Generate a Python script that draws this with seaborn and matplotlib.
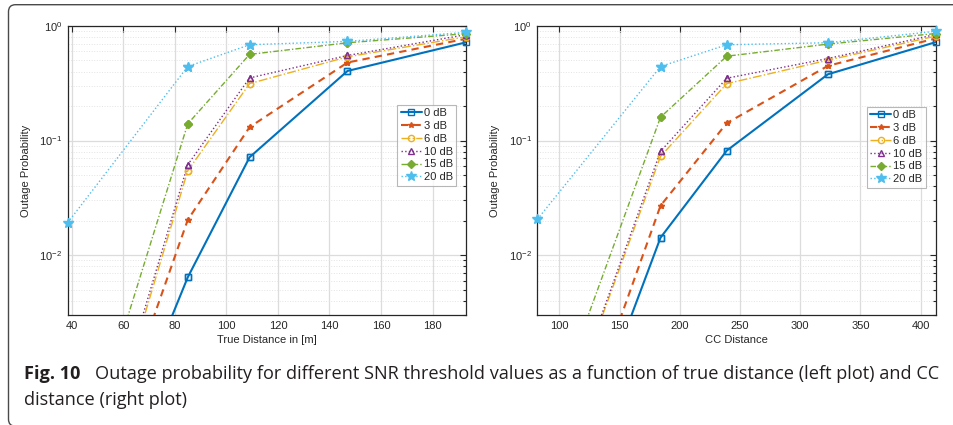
import numpy as np
import pandas as pd
import matplotlib
matplotlib.use("Agg")
import matplotlib.pyplot as plt
from matplotlib.patches import FancyBboxPatch
from matplotlib.ticker import LogLocator, NullFormatter, FixedLocator
import seaborn as sns

# SNR thresholds (legend labels)
snr_labels = ["0 dB", "3 dB", "6 dB", "10 dB", "15 dB", "20 dB"]

# left plot: true distance [m]
true_dist = [38.4, 85, 109, 147, 193]
out_true_0 = [1.7e-5, 0.0064, 0.0715, 0.405, 0.72]
out_true_3 = [2.1e-5, 0.0203, 0.131, 0.48, 0.774]
out_true_6 = [1.7e-5, 0.0545, 0.314, 0.538, 0.805]
out_true_10 = [1.9e-5, 0.0615, 0.352, 0.553, 0.84]
out_true_15 = [6.0e-5, 0.14, 0.565, 0.714, 0.857]
out_true_20 = [0.0192, 0.443, 0.686, 0.734, 0.88]

# right plot: CC distance
cc_dist = [81.7, 184, 239, 323, 412.7]
out_cc_0 = [1.9e-5, 0.0142, 0.0817, 0.379, 0.724]
out_cc_3 = [2.6e-5, 0.027, 0.142, 0.449, 0.78]
out_cc_6 = [8.2e-5, 0.0727, 0.314, 0.503, 0.817]
out_cc_10 = [8.3e-5, 0.0805, 0.35, 0.52, 0.845]
out_cc_15 = [1.8e-4, 0.160, 0.545, 0.695, 0.86]
out_cc_20 = [0.0205, 0.443, 0.686, 0.714, 0.90]

true_series = [out_true_0, out_true_3, out_true_6, out_true_10, out_true_15, out_true_20]
cc_series = [out_cc_0, out_cc_3, out_cc_6, out_cc_10, out_cc_15, out_cc_20]

x_ticks_true = [40, 60, 80, 100, 120, 140, 160, 180]
x_ticks_cc = [100, 150, 200, 250, 300, 350, 400]

# MATLAB-ish styles
colors = ["#0072BD", "#D95319", "#EDB120", "#7E2F8E", "#77AC30", "#4DBEEE"]
markers = ["s", "*", "o", "^", "D", "*"]
msizes = [4, 4, 4.5, 5, 4, 7]
mfaces = ["none", None, "none", "none", None, None]
lstyles = ["-", (0, (3.5, 2.5)), "-.", ":", (0, (4, 1.5, 1, 1.5)), ":"]
lwidths = [1.5, 1.5, 1.0, 1.0, 1.0, 1.0]

sns.set_style("white")
plt.rcParams["font.family"] = ["Liberation Sans", "DejaVu Sans"]
plt.rcParams["mathtext.fontset"] = "custom"
plt.rcParams["mathtext.rm"] = "Liberation Sans"
plt.rcParams["mathtext.it"] = "Liberation Sans"

fig = plt.figure(figsize=(9.54, 4.25), dpi=100)
W, H = 954, 425
ymin, ymax = 0.003, 1.0


def panel(rect, xs, series, xlim, xticks, xlabel, leg_anchor):
    ax = fig.add_axes([rect[0] / W, 1 - rect[3] / H, (rect[2] - rect[0]) / W, (rect[3] - rect[1]) / H])
    for i, ys in enumerate(series):
        df = pd.DataFrame({"x": xs, "y": ys})
        face = mfaces[i] if mfaces[i] else colors[i]
        sns.lineplot(data=df, x="x", y="y", ax=ax, color=colors[i], linestyle=lstyles[i],
                     linewidth=lwidths[i], marker=markers[i], markersize=msizes[i],
                     markerfacecolor=face, markeredgecolor=colors[i], markeredgewidth=1.0,
                     label=snr_labels[i], sort=False, zorder=3)
        # markers on the box edge are not clipped (as in MATLAB)
        vis = df[(df.y >= ymin) & (df.y <= ymax)]
        ax.plot(vis.x, vis.y, linestyle="none", marker=markers[i], markersize=msizes[i],
                markerfacecolor=face, markeredgecolor=colors[i], markeredgewidth=1.0,
                clip_on=False, zorder=4)
    ax.set_yscale("log")
    ax.set_ylim(ymin, ymax)
    ax.set_xlim(*xlim)
    ax.xaxis.set_major_locator(FixedLocator(xticks))
    ax.yaxis.set_major_locator(FixedLocator([1e-2, 1e-1, 1e0]))
    ax.yaxis.set_minor_locator(LogLocator(base=10, subs=np.arange(2, 10)))
    ax.yaxis.set_minor_formatter(NullFormatter())
    ax.set_yticklabels([r"$10^{-2}$", r"$10^{-1}$", r"$10^{0}$"])
    ax.grid(True, which="major", color="#dcdcdc", linewidth=0.9, linestyle="-")
    ax.grid(True, which="minor", axis="y", color="#e4e4e4", linewidth=0.7, linestyle=":")
    ax.set_axisbelow(True)
    ax.tick_params(which="both", direction="in", top=True, right=True, colors="#262626",
                   labelsize=8, width=0.8)
    ax.tick_params(which="major", length=4, pad=4)
    ax.tick_params(which="minor", length=2.5)
    for s in ax.spines.values():
        s.set_color("#262626")
        s.set_linewidth(0.9)
    ax.set_xlabel(xlabel, fontsize=8, color="#262626", labelpad=3)
    ax.set_ylabel("Outage Probability", fontsize=8, color="#262626", labelpad=6)
    leg = ax.legend(loc="upper left", bbox_to_anchor=leg_anchor, borderaxespad=0,
                    fontsize=8, frameon=True, fancybox=False, handlelength=1.9,
                    handletextpad=0.2, borderpad=0.3, labelspacing=0.25)
    leg.get_frame().set_edgecolor("#a6a6a6")
    leg.get_frame().set_linewidth(0.8)
    for t in leg.get_texts():
        t.set_color("#262626")
    return ax


panel((67.7, 26, 466, 315), true_dist, true_series, (38.4, 193), x_ticks_true,
      "True Distance in [m]", (0.8275, 0.7266))
panel((537.3, 26, 936, 315), cc_dist, cc_series, (81.7, 412.7), x_ticks_cc,
      "CC Distance", (0.826, 0.7197))

# rounded frame around the figure
frame = FancyBboxPatch((0.085, -0.012), 9.8, 4.25 - 0.047 + 0.012,
                       boxstyle="round,pad=0,rounding_size=0.07",
                       transform=fig.dpi_scale_trans, fill=False,
                       edgecolor="#4a4a4a", linewidth=1.0)
fig.patches.append(frame)

# caption
cap_font = ["Open Sans", "DejaVu Sans"]
cap_size = 13.1
fig.text(24.5 / W, 1 - 379 / H, "Fig. 10", fontsize=cap_size, fontweight="bold",
         family=cap_font, color="#231f20", va="baseline")
fig.text(95 / W, 1 - 379 / H,
         "Outage probability for different SNR threshold values as a function of true distance (left plot) and CC",
         fontsize=cap_size, family=cap_font, color="#231f20", va="baseline")
fig.text(24.5 / W, 1 - 405 / H, "distance (right plot)", fontsize=cap_size,
         family=cap_font, color="#231f20", va="baseline")

fig.savefig("out.png", dpi=100)
